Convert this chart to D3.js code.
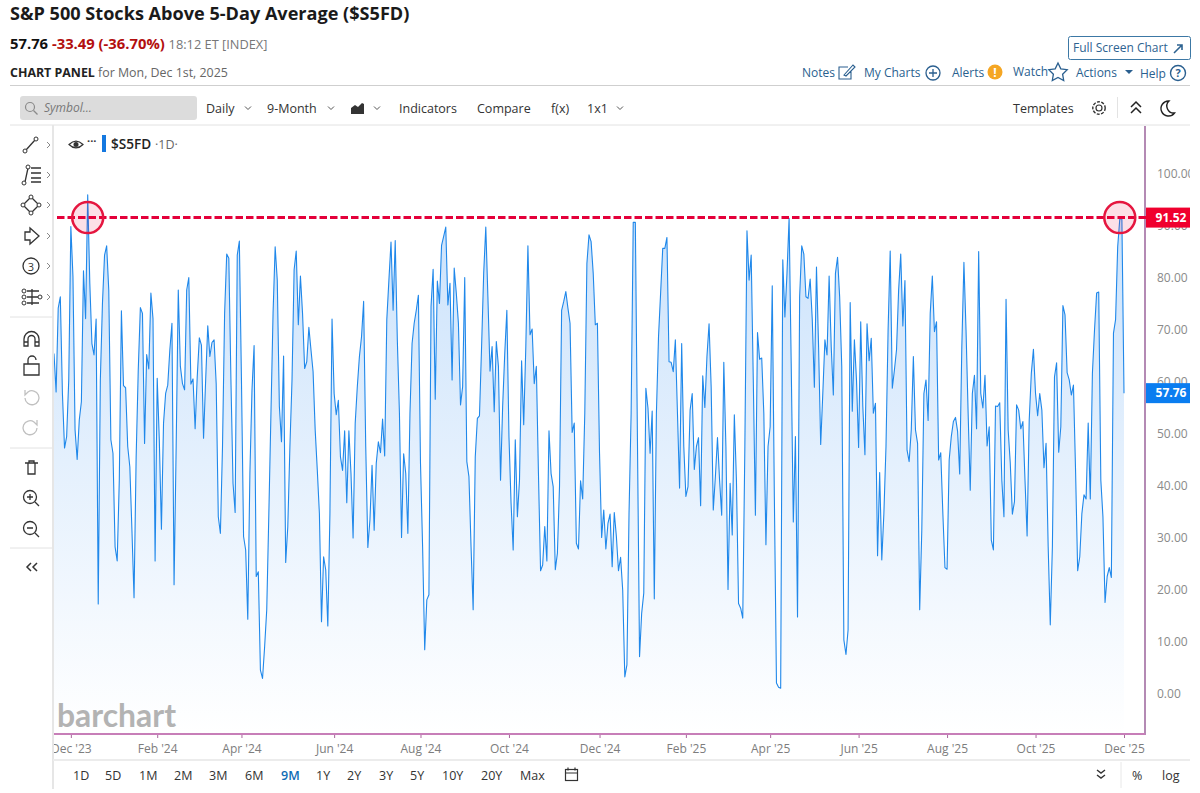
<!DOCTYPE html>
<html>
<head>
<meta charset="utf-8">
<title>S&amp;P 500 Stocks Above 5-Day Average ($S5FD)</title>
<script src="https://cdn.jsdelivr.net/npm/d3@7"></script>
<style>
  html, body { margin: 0; padding: 0; background: #fff; overflow: hidden; }
  svg { display: block; font-family: "Open Sans", "Noto Sans", sans-serif; }
</style>
</head>
<body>
<div id="container"></div>
<script>
// daily % of S&P 500 stocks above their 5-day average
const pctAbove = [
  65.4, 58.0, 74.1, 76.3, 57.7, 47.2, 49.4, 60.3, 89.8, 80.2, 50.7, 45.0, 52.6, 56.1, 81.3, 72.1, 95.9, 78.9, 67.3, 65.1, 72.0,
  17.2, 60.3, 75.0, 84.3, 86.1, 77.6, 48.8, 46.2, 28.2, 25.5, 41.0, 73.6, 59.2, 58.8, 47.5, 43.6, 31.4, 18.4, 45.5, 62.2,
  74.2, 73.1, 48.1, 65.2, 62.4, 77.0, 72.1, 25.5, 60.6, 48.8, 31.6, 52.0, 57.7, 59.3, 66.1, 71.2, 20.9, 47.5, 77.6, 62.9,
  59.6, 58.4, 77.6, 80.0, 59.5, 60.5, 50.9, 60.9, 68.4, 67.0, 49.1, 60.3, 70.7, 64.8, 67.5, 68.0, 59.6, 34.0, 30.8, 47.5,
  73.1, 84.5, 83.7, 60.3, 40.4, 34.8, 84.3, 87.0, 60.3, 30.2, 27.6, 14.3, 42.3, 58.4, 66.9, 22.5, 23.4, 4.5, 2.9, 9.0,
  16.1, 34.6, 53.9, 73.1, 85.9, 79.5, 55.2, 48.4, 64.9, 25.2, 32.1, 47.5, 60.3, 81.5, 85.1, 70.9, 80.3, 73.1, 62.5, 63.8,
  70.4, 66.1, 61.9, 50.7, 43.0, 34.6, 13.8, 26.3, 23.8, 13.0, 34.6,
  72.0, 57.7, 53.6, 56.4, 45.5, 42.9, 50.5, 36.7, 50.5, 42.3, 29.9, 52.0, 59.0, 64.8, 68.6, 75.4, 47.5, 28.1, 33.4, 43.9,
  31.4, 44.3, 48.4, 46.3, 52.8, 45.7, 71.9, 79.5, 86.8, 73.7, 87.1, 68.0, 53.9, 30.0, 46.1, 42.3, 30.8, 53.9, 67.3, 71.2,
  73.7, 76.6, 44.3, 28.2, 8.4, 18.0, 19.0, 74.4, 81.6, 56.6, 79.3, 75.0, 86.2, 87.9, 89.7, 74.7, 78.9, 60.3, 81.8, 77.0,
  71.2, 55.5, 59.0, 80.0, 44.6, 41.7, 28.2, 16.1, 45.5, 52.9, 53.4, 66.7, 80.8, 89.7, 76.3, 62.0, 66.7, 54.2, 67.7, 62.9,
  41.0, 55.2, 65.4, 73.7, 49.4, 36.6, 27.6, 48.8, 34.0, 41.0, 64.0, 51.7, 66.7, 86.1, 69.0, 70.1, 59.6, 62.9, 42.3, 23.6,
  24.7, 32.1, 25.5, 50.5, 42.3, 39.8, 23.8, 27.0, 39.8, 73.7, 75.4, 77.3, 74.1, 71.2, 50.2, 52.0, 28.9, 27.8, 40.9,
  37.4, 53.9, 82.7, 88.2, 86.9, 80.8, 70.9, 71.2, 46.2, 30.0, 35.3, 27.8, 32.7, 34.5,
  24.4, 34.8, 30.2, 23.6, 26.2, 19.9, 3.2, 5.5, 34.6, 53.9, 90.6, 90.6, 48.8, 7.1, 15.4, 19.3, 58.7, 54.9, 46.2, 54.3,
  18.2, 53.9, 68.6, 77.0, 85.6, 85.6, 87.7, 63.8, 63.7, 61.9, 68.0, 53.9, 39.5, 67.3, 47.5, 37.9, 39.8, 54.5, 57.7, 43.1,
  47.5, 49.2, 36.1, 61.1, 55.0, 64.8, 71.1, 59.0, 35.3, 41.7, 49.2, 41.0, 34.3, 63.7, 47.5, 20.0, 40.4, 30.5, 53.6, 41.0,
  17.3, 16.4, 14.5, 47.5, 89.0, 79.5, 84.3, 60.3, 34.3, 69.4, 64.3, 64.5, 53.9, 28.6, 47.5, 51.3, 78.4, 37.9, 2.0, 1.2,
  1.0, 83.4, 72.4, 80.8, 91.4, 63.5, 33.0, 49.4, 14.7, 76.3, 86.1, 84.5, 76.3, 76.0, 79.7, 71.9, 58.9, 82.0, 66.7, 47.9,
  57.7, 68.0, 65.1, 80.3, 66.7, 57.4, 80.8, 83.9, 76.3, 62.9, 10.3, 7.5, 12.2, 75.2, 54.3, 68.0, 60.3, 47.3, 71.5, 55.2,
  45.9, 71.1, 64.0, 68.3, 53.9, 55.8, 26.5, 42.5, 25.7, 34.6, 47.5, 69.9, 85.1,
  58.7, 62.2, 66.1, 77.6, 84.5, 70.7, 79.4, 46.8, 44.6, 50.7, 64.8, 50.7, 48.1, 16.1, 31.4, 57.7, 60.3, 52.5, 73.1, 80.3,
  69.6, 71.5, 44.9, 46.3, 34.6, 24.2, 23.9, 44.9, 49.4, 52.3, 53.1, 50.4, 42.2, 66.7, 82.9, 69.9, 53.9, 39.1, 57.7, 61.2,
  50.9, 85.0, 57.7, 54.9, 61.2, 47.6, 51.3, 29.5, 27.6, 55.3, 55.2, 55.9, 41.0, 34.0, 75.8, 50.7, 44.3, 34.5, 36.9, 55.5,
  54.5, 50.9, 52.3, 41.0, 30.3, 52.6, 61.6, 66.2, 57.7, 53.4, 57.7, 54.5, 43.4, 48.1, 28.2, 13.2, 28.2, 60.9, 63.6, 46.4,
  51.3, 74.6, 72.8, 61.7, 60.3, 57.4, 59.3, 43.0, 23.6, 26.3, 34.6, 38.2, 37.4, 52.0, 37.4, 61.6, 69.9, 77.0, 77.2, 41.0,
  34.0, 17.5, 22.5, 24.2, 22.3, 69.3, 71.9, 85.9, 91.25, 91.25, 57.76
];

const lastValue = 57.76;
const refValue = 91.52;
const refValueLabel = '91.52';

// sessions (counted from the first plotted day) that carry a month tick
const monthSessions = [8, 49, 89, 133, 174, 216, 259, 300, 340, 382, 424, 466, 508];
const monthLabels = ["Dec '23", "Feb '24", "Apr '24", "Jun '24", "Aug '24", "Oct '24", "Dec '24", "Feb '25", "Apr '25", "Jun '25", "Aug '25", "Oct '25", "Dec '25"];
const priceTicks = [0, 10, 20, 30, 40, 50, 60, 70, 80, 90, 100];
// the two sessions that the red circles sit on
const circledSessions = [16, pctAbove.length - 3];

const toolbarLabels = ['Daily', '9-Month', 'Indicators', 'Compare', 'f(x)', '1x1', 'Templates'];
const toolbarX = [206, 267, 399, 477, 551, 587, 1013];
const rangeLabels = ['1D', '5D', '1M', '2M', '3M', '6M', '9M', '1Y', '2Y', '3Y', '5Y', '10Y', '20Y', 'Max'];
const rangeX = [73, 105, 139, 174, 209, 245, 281, 316, 347, 379, 410, 442, 481, 520];

const width = 1200;
const height = 793;
const plotLeft = 54;
const plotRight = 1145;
const plotBottom = 734;
const lastX = 1124;

const svg = d3.select('#container').append('svg').attr('width', width).attr('height', height);
const defs = svg.append('defs');

const x = d3.scaleLinear().domain([0, pctAbove.length - 1]).range([plotLeft, lastX]);
const y = d3.scaleLinear().domain([0, 100]).range([693.5, 173.5]);

defs.append('clipPath').attr('id', 'plot-clip').append('rect')
  .attr('x', plotLeft).attr('y', 126).attr('width', plotRight - plotLeft).attr('height', plotBottom - 126);
defs.append('clipPath').attr('id', 'xaxis-clip').append('rect')
  .attr('x', plotLeft).attr('y', plotBottom).attr('width', plotRight - plotLeft + 10).attr('height', 26);
defs.append('clipPath').attr('id', 'yaxis-clip').append('rect')
  .attr('x', plotRight).attr('y', 126).attr('width', 45).attr('height', plotBottom - 126);

const grad = defs.append('linearGradient').attr('id', 'area-fill')
  .attr('gradientUnits', 'userSpaceOnUse').attr('x1', 0).attr('x2', 0).attr('y1', 190).attr('y2', plotBottom);
grad.append('stop').attr('offset', 0).attr('stop-color', '#c9e1fb');
grad.append('stop').attr('offset', 1).attr('stop-color', '#ffffff');

const line = d3.line().x((d, i) => x(i)).y(d => y(d));
const area = d3.area().x((d, i) => x(i)).y0(plotBottom).y1(d => y(d));

const plot = svg.append('g').attr('clip-path', 'url(#plot-clip)');
plot.append('path').datum(pctAbove).attr('d', area).attr('fill', 'url(#area-fill)');
plot.append('path').datum(pctAbove).attr('d', line)
  .attr('fill', 'none').attr('stroke', '#2088ea').attr('stroke-width', 1.1).attr('stroke-linejoin', 'round');

// watermark
svg.append('text').attr('x', 57).attr('y', 727).text('barchart')
  .attr('font-family', 'Lato, sans-serif').attr('font-weight', 700).attr('font-size', 32)
  .attr('textLength', 119).attr('lengthAdjust', 'spacingAndGlyphs').attr('fill', '#b3b3b3');

// axes
const xAxis = d3.axisBottom(x).tickValues(monthSessions)
  .tickFormat((d, i) => monthLabels[i]).tickSize(4).tickPadding(6);
const xg = svg.append('g').attr('clip-path', 'url(#xaxis-clip)')
  .append('g').attr('transform', `translate(0,${plotBottom})`).call(xAxis);
xg.select('.domain').remove();
xg.selectAll('line').attr('stroke', '#a8689c');
xg.selectAll('text').attr('fill', '#7d7d7d').attr('font-size', 12).attr('font-family', '"Open Sans", sans-serif');

const yAxis = d3.axisRight(y).tickValues(priceTicks).tickFormat(d3.format('.2f')).tickSize(0).tickPadding(12);
const yg = svg.append('g').attr('clip-path', 'url(#yaxis-clip)')
  .append('g').attr('transform', `translate(${plotRight},0)`).call(yAxis);
yg.select('.domain').remove();
yg.selectAll('text').attr('fill', '#8a8a8a').attr('font-size', 12).attr('font-family', '"Open Sans", sans-serif');

svg.append('line').attr('x1', plotRight).attr('x2', plotRight).attr('y1', 126).attr('y2', plotBottom + 1)
  .attr('stroke', '#b48ab4').attr('stroke-width', 2);
svg.append('line').attr('x1', plotLeft).attr('x2', plotRight).attr('y1', plotBottom).attr('y2', plotBottom)
  .attr('stroke', '#c77eb8').attr('stroke-width', 2);

// red reference line, circles and price flags
svg.append('line').attr('x1', 57).attr('x2', plotRight + 3).attr('y1', y(refValue)).attr('y2', y(refValue))
  .attr('stroke', '#e4003a').attr('stroke-width', 3).attr('stroke-dasharray', '7.5 3');

svg.selectAll('.flag-circle').data(circledSessions).enter().append('circle')
  .attr('class', 'flag-circle')
  .attr('cx', d => x(d))
  .attr('cy', y(refValue))
  .attr('r', 15.5)
  .attr('fill', '#e4003a').attr('fill-opacity', 0.12)
  .attr('stroke', '#e5163f').attr('stroke-width', 2.5);

function priceFlag(value, label, color) {
  const cy = y(value);
  svg.append('rect').attr('x', plotRight + 1).attr('y', cy - 10).attr('width', 44).attr('height', 20).attr('fill', color);
  svg.append('text').attr('x', plotRight + 26).attr('y', cy + 4.2).attr('text-anchor', 'middle')
    .attr('fill', '#fff').attr('font-size', 12).attr('font-weight', 700).text(label);
}
priceFlag(refValue, refValueLabel, '#f0002e');
priceFlag(lastValue, lastValue.toFixed(2), '#0a7df0');

// page header
function label(px, py, str, size, color, weight) {
  return svg.append('text').attr('x', px).attr('y', py).attr('font-size', size)
    .attr('fill', color).attr('font-weight', weight || 400).text(str);
}
label(10, 20, 'S&P 500 Stocks Above 5-Day Average ($S5FD)', 18.1, '#1a1a1a', 700);
const quote = svg.append('text').attr('x', 10).attr('y', 49).attr('font-size', 14.8).attr('font-weight', 700);
quote.append('tspan').attr('fill', '#111').text('57.76 ');
quote.append('tspan').attr('fill', '#b30f0f').text('-33.49 (-36.70%) ');
quote.append('tspan').attr('fill', '#777').attr('font-weight', 400).attr('font-size', 12.8).text('18:12 ET [INDEX]');
const panel = svg.append('text').attr('x', 10).attr('y', 77).attr('font-size', 12.4);
panel.append('tspan').attr('fill', '#222').attr('font-weight', 700).text('CHART PANEL ');
panel.append('tspan').attr('fill', '#666').text('for Mon, Dec 1st, 2025');

svg.append('rect').attr('x', 1068.5).attr('y', 36.5).attr('width', 122).attr('height', 23).attr('rx', 2)
  .attr('fill', '#fff').attr('stroke', '#3c78a5');
label(1073, 52, 'Full Screen Chart', 12, '#2e6391');
svg.append('path').attr('d', 'M1174 53l8-8m-5 0h5v5').attr('fill', 'none').attr('stroke', '#2e6391').attr('stroke-width', 1.6);

const linkColor = '#2a5f8f';
label(802, 77, 'Notes', 12, linkColor);
svg.append('path').attr('d', 'M848 67h-9v12h12v-8M844 75l9-10 2 2-9 9z').attr('fill', 'none').attr('stroke', linkColor).attr('stroke-width', 1.1);
label(864, 77, 'My Charts', 12, linkColor);
svg.append('circle').attr('cx', 933).attr('cy', 73).attr('r', 7).attr('fill', 'none').attr('stroke', linkColor).attr('stroke-width', 1.3);
svg.append('path').attr('d', 'M929 73h8M933 69v8').attr('stroke', linkColor).attr('stroke-width', 1.3);
label(952, 77, 'Alerts', 12, linkColor);
svg.append('circle').attr('cx', 995).attr('cy', 72).attr('r', 7.5).attr('fill', '#f5a623');
label(995, 77, '!', 12, '#fff', 700).attr('text-anchor', 'middle');
label(1013, 76, 'Watch', 12, linkColor);
svg.append('path').attr('d', 'M1058 63l2.8 5.8 6.4.9-4.6 4.5 1.1 6.3-5.7-3-5.7 3 1.1-6.3-4.6-4.5 6.4-.9z')
  .attr('fill', 'none').attr('stroke', linkColor).attr('stroke-width', 1.3);
label(1076, 77, 'Actions', 12, linkColor);
svg.append('path').attr('d', 'M1125 70h8l-4 4z').attr('fill', linkColor);
label(1140, 78, 'Help', 12, linkColor);
svg.append('circle').attr('cx', 1178).attr('cy', 73).attr('r', 7.5).attr('fill', 'none').attr('stroke', linkColor).attr('stroke-width', 1.4);
label(1178, 77, '?', 11, linkColor, 700).attr('text-anchor', 'middle');

svg.append('line').attr('x1', 10).attr('x2', 1190).attr('y1', 85.5).attr('y2', 85.5).attr('stroke', '#cfcfcf');

// top toolbar
svg.append('rect').attr('x', 20).attr('y', 96).attr('width', 177).attr('height', 24).attr('rx', 3).attr('fill', '#dcdcdc');
svg.append('circle').attr('cx', 30).attr('cy', 107).attr('r', 4.5).attr('fill', 'none').attr('stroke', '#8a8a8a').attr('stroke-width', 1.2);
svg.append('path').attr('d', 'M33.5 110.5l4 4').attr('stroke', '#8a8a8a').attr('stroke-width', 1.2);
label(44, 112, 'Symbol...', 12, '#777').attr('font-style', 'italic');
toolbarLabels.forEach((t, i) => label(toolbarX[i], 113, t, 12.5, '#333'));

function chevron(px, py) {
  svg.append('path').attr('d', `M${px - 3} ${py - 1.5}l3 3 3-3`).attr('fill', 'none').attr('stroke', '#555').attr('stroke-width', 1);
}
[248, 331, 377, 620].forEach(px => chevron(px, 108));
svg.append('path').attr('d', 'M351 114v-6l4-3 3 2 4-4 2 1v10z').attr('fill', '#333');
svg.append('circle').attr('cx', 1099).attr('cy', 108).attr('r', 3).attr('fill', 'none').attr('stroke', '#333').attr('stroke-width', 1.2);
svg.append('circle').attr('cx', 1099).attr('cy', 108).attr('r', 6.2).attr('fill', 'none').attr('stroke', '#333').attr('stroke-width', 1.4).attr('stroke-dasharray', '3 1.4');
svg.append('line').attr('x1', 1117.5).attr('x2', 1117.5).attr('y1', 97).attr('y2', 118).attr('stroke', '#e3e3e3');
svg.append('path').attr('d', 'M1131 107l5-5 5 5M1131 113l5-5 5 5').attr('fill', 'none').attr('stroke', '#222').attr('stroke-width', 1.5);
svg.append('path').attr('d', 'M1169 101a7.5 7.5 0 1 0 5.5 12 7 7 0 0 1-5.5-12z').attr('fill', 'none').attr('stroke', '#222').attr('stroke-width', 1.4);
svg.append('line').attr('x1', 10).attr('x2', 1190).attr('y1', 125).attr('y2', 125).attr('stroke', '#e2e2e2');

// legend
svg.append('path').attr('d', 'M69 144.5q7-7 14 0q-7 7-14 0z').attr('fill', 'none').attr('stroke', '#333').attr('stroke-width', 1.2);
svg.append('circle').attr('cx', 76).attr('cy', 144.5).attr('r', 2.5).attr('fill', '#333');
label(87, 145, '···', 11, '#333', 700);
svg.append('rect').attr('x', 102).attr('y', 135).attr('width', 4).attr('height', 17).attr('fill', '#1478e0');
label(111, 149, '$S5FD', 13.6, '#222', 600);
label(155, 149, '·1D·', 12.5, '#666');

// left drawing tools
svg.append('line').attr('x1', 53).attr('x2', 53).attr('y1', 125).attr('y2', 789).attr('stroke', '#e6e6e6').attr('stroke-width', 2);
[[10, 317], [10, 448], [10, 548]].forEach(d => {
  svg.append('line').attr('x1', d[0]).attr('x2', 52).attr('y1', d[1]).attr('y2', d[1]).attr('stroke', '#e2e2e2');
});
[145, 175, 205, 236, 266, 297].forEach(py => {
  svg.append('path').attr('d', `M47 ${py - 3}l3 3-3 3`).attr('fill', 'none').attr('stroke', '#888').attr('stroke-width', 1);
});
const ink = { fill: 'none', stroke: '#333', 'stroke-width': 1.3 };
function icon(d, color) {
  return svg.append('path').attr('d', d).attr('fill', ink.fill).attr('stroke', color || ink.stroke).attr('stroke-width', ink['stroke-width']);
}
function node(px, py) {
  svg.append('circle').attr('cx', px).attr('cy', py).attr('r', 2).attr('fill', '#fff').attr('stroke', '#333');
}
icon('M26 150l9-10');
node(25, 151); node(36, 139);
icon('M25 182l3-14M31 168h10M31 173h10M31 178h10M31 182h10');
node(24, 183); node(28, 167);
icon('M31 197l8 8-8 8-8-8z');
node(31, 197); node(39, 205); node(31, 213); node(23, 205);
icon('M25 232h5v-4l9 8-9 8v-4h-5z');
svg.append('circle').attr('cx', 31).attr('cy', 266).attr('r', 8).attr('fill', 'none').attr('stroke', '#333').attr('stroke-width', 1.3);
label(31, 270.5, '3', 11, '#333').attr('text-anchor', 'middle');
icon('M27 291h12M27 297h12M27 303h12M32 289v16');
node(24, 291); node(24, 297); node(24, 303); node(40, 297);
icon('M24 346v-7a7.5 7.5 0 0 1 15 0v7h-4v-7a3.5 3.5 0 0 0-7 0v7zM24 342h4M35 342h4');
icon('M24 364h15v11h-15zM28 364v-4a4 4 0 0 1 8 0');
icon('M25 398a7 7 0 1 0 3-6l-3 3v-5', '#c0c0c0');
icon('M37 428a7 7 0 1 1-3-6l3 3v-5', '#c0c0c0');
icon('M25 463h13M28 463v11h7v-11M29 463v-2h5v2');
svg.append('circle').attr('cx', 30).attr('cy', 497).attr('r', 6.5).attr('fill', 'none').attr('stroke', '#333').attr('stroke-width', 1.3);
icon('M35 502l4 4M27 497h6M30 494v6');
svg.append('circle').attr('cx', 30).attr('cy', 528).attr('r', 6.5).attr('fill', 'none').attr('stroke', '#333').attr('stroke-width', 1.3);
icon('M35 533l4 4M27 528h6');
svg.append('path').attr('d', 'M31 563l-4 4 4 4M37 563l-4 4 4 4').attr('fill', 'none').attr('stroke', '#333').attr('stroke-width', 1.5);

// bottom range bar
svg.append('line').attr('x1', 53).attr('x2', 1190).attr('y1', 760).attr('y2', 760).attr('stroke', '#ececec').attr('stroke-width', 2);
rangeLabels.forEach((t, i) => {
  label(rangeX[i], 780, t, 12.5, t === '9M' ? '#0f6cb5' : '#333', t === '9M' ? 600 : 400);
});
svg.append('rect').attr('x', 565.5).attr('y', 769.5).attr('width', 12).attr('height', 11).attr('fill', 'none').attr('stroke', '#333').attr('stroke-width', 1.2);
svg.append('path').attr('d', 'M565.5 773h12M568 767.5v3M575 767.5v3').attr('stroke', '#333').attr('stroke-width', 1.2);
svg.append('path').attr('d', 'M1097 770l4 3 4-3M1097 775l4 3 4-3').attr('fill', 'none').attr('stroke', '#333').attr('stroke-width', 1.4);
svg.append('line').attr('x1', 1121).attr('x2', 1121).attr('y1', 762).attr('y2', 788).attr('stroke', '#e8e8e8');
label(1132, 780, '%', 12.5, '#333');
label(1162, 780, 'log', 12.5, '#333');
</script>
</body>
</html>
